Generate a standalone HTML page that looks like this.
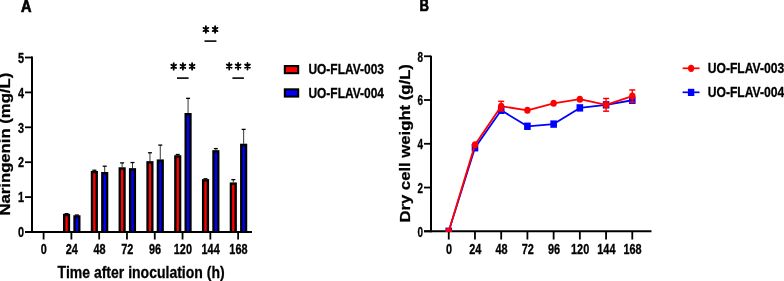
<!DOCTYPE html>
<html><head><meta charset="utf-8"><style>
html,body{margin:0;padding:0;background:#fff;}
body{width:784px;height:281px;overflow:hidden;}
svg{display:block;will-change:transform;filter:blur(0.3px);}
text{font-family:"Liberation Sans", sans-serif;font-weight:bold;fill:#000;stroke:#000;stroke-width:0.3px;}
</style></head><body>
<svg width="784" height="281" viewBox="0 0 784 281">
<rect width="784" height="281" fill="#fff"/>
<text style="stroke-width:0.7px" transform="translate(21.10,11.50) scale(0.91,1)" font-size="16" text-anchor="start">A</text>
<line x1="32.00" y1="56.60" x2="32.00" y2="232.90" stroke="#000" stroke-width="2.0" stroke-linecap="butt"/>
<line x1="25.00" y1="232.00" x2="32.00" y2="232.00" stroke="#000" stroke-width="1.8" stroke-linecap="butt"/>
<text transform="translate(24.00,237.20) scale(0.79,1)" font-size="13.8" text-anchor="end">0</text>
<line x1="25.00" y1="197.10" x2="32.00" y2="197.10" stroke="#000" stroke-width="1.8" stroke-linecap="butt"/>
<text transform="translate(24.00,202.30) scale(0.79,1)" font-size="13.8" text-anchor="end">1</text>
<line x1="25.00" y1="162.20" x2="32.00" y2="162.20" stroke="#000" stroke-width="1.8" stroke-linecap="butt"/>
<text transform="translate(24.00,167.40) scale(0.79,1)" font-size="13.8" text-anchor="end">2</text>
<line x1="25.00" y1="127.30" x2="32.00" y2="127.30" stroke="#000" stroke-width="1.8" stroke-linecap="butt"/>
<text transform="translate(24.00,132.50) scale(0.79,1)" font-size="13.8" text-anchor="end">3</text>
<line x1="25.00" y1="92.40" x2="32.00" y2="92.40" stroke="#000" stroke-width="1.8" stroke-linecap="butt"/>
<text transform="translate(24.00,97.60) scale(0.79,1)" font-size="13.8" text-anchor="end">4</text>
<line x1="25.00" y1="57.50" x2="32.00" y2="57.50" stroke="#000" stroke-width="1.8" stroke-linecap="butt"/>
<text transform="translate(24.00,62.70) scale(0.79,1)" font-size="13.8" text-anchor="end">5</text>
<line x1="25.00" y1="232.00" x2="252.00" y2="232.00" stroke="#000" stroke-width="2.0" stroke-linecap="butt"/>
<line x1="43.60" y1="232.00" x2="43.60" y2="239.50" stroke="#000" stroke-width="1.8" stroke-linecap="butt"/>
<text transform="translate(43.90,253.90) scale(0.79,1)" font-size="13.8" text-anchor="middle">0</text>
<line x1="71.39" y1="232.00" x2="71.39" y2="239.50" stroke="#000" stroke-width="1.8" stroke-linecap="butt"/>
<text transform="translate(71.69,253.90) scale(0.79,1)" font-size="13.8" text-anchor="middle">24</text>
<line x1="99.18" y1="232.00" x2="99.18" y2="239.50" stroke="#000" stroke-width="1.8" stroke-linecap="butt"/>
<text transform="translate(99.48,253.90) scale(0.79,1)" font-size="13.8" text-anchor="middle">48</text>
<line x1="126.97" y1="232.00" x2="126.97" y2="239.50" stroke="#000" stroke-width="1.8" stroke-linecap="butt"/>
<text transform="translate(127.27,253.90) scale(0.79,1)" font-size="13.8" text-anchor="middle">72</text>
<line x1="154.76" y1="232.00" x2="154.76" y2="239.50" stroke="#000" stroke-width="1.8" stroke-linecap="butt"/>
<text transform="translate(155.06,253.90) scale(0.79,1)" font-size="13.8" text-anchor="middle">96</text>
<line x1="182.55" y1="232.00" x2="182.55" y2="239.50" stroke="#000" stroke-width="1.8" stroke-linecap="butt"/>
<text transform="translate(182.85,253.90) scale(0.79,1)" font-size="13.8" text-anchor="middle">120</text>
<line x1="210.34" y1="232.00" x2="210.34" y2="239.50" stroke="#000" stroke-width="1.8" stroke-linecap="butt"/>
<text transform="translate(210.64,253.90) scale(0.79,1)" font-size="13.8" text-anchor="middle">144</text>
<line x1="238.13" y1="232.00" x2="238.13" y2="239.50" stroke="#000" stroke-width="1.8" stroke-linecap="butt"/>
<text transform="translate(238.43,253.90) scale(0.79,1)" font-size="13.8" text-anchor="middle">168</text>
<text transform="translate(57.60,277.70) scale(0.815,1)" font-size="17.2" text-anchor="start">Time after inoculation (h)</text>
<text transform="translate(10.20,215.50) scale(0.85,1) rotate(-90)" font-size="16.7" text-anchor="start">Naringenin (mg/L)</text>
<line x1="66.56" y1="213.68" x2="66.56" y2="213.85" stroke="#222" stroke-width="0.9" stroke-linecap="butt"/>
<line x1="64.56" y1="213.68" x2="68.56" y2="213.68" stroke="#000" stroke-width="1.3" stroke-linecap="butt"/>
<rect x="62.99" y="213.85" width="7.15" height="18.15" fill="#000"/>
<rect x="65.39" y="216.25" width="2.35" height="15.75" fill="#ff0000"/>
<line x1="76.91" y1="215.00" x2="76.91" y2="215.25" stroke="#222" stroke-width="0.9" stroke-linecap="butt"/>
<line x1="74.91" y1="215.00" x2="78.91" y2="215.00" stroke="#000" stroke-width="1.3" stroke-linecap="butt"/>
<rect x="73.34" y="215.25" width="7.15" height="16.75" fill="#000"/>
<rect x="75.74" y="217.65" width="2.35" height="14.35" fill="#0000ff"/>
<line x1="94.36" y1="170.23" x2="94.36" y2="170.93" stroke="#222" stroke-width="0.9" stroke-linecap="butt"/>
<line x1="92.36" y1="170.23" x2="96.36" y2="170.23" stroke="#000" stroke-width="1.3" stroke-linecap="butt"/>
<rect x="90.78" y="170.93" width="7.15" height="61.07" fill="#000"/>
<rect x="93.18" y="173.33" width="2.35" height="58.67" fill="#ff0000"/>
<line x1="104.71" y1="166.21" x2="104.71" y2="171.97" stroke="#222" stroke-width="0.9" stroke-linecap="butt"/>
<line x1="102.71" y1="166.21" x2="106.71" y2="166.21" stroke="#000" stroke-width="1.3" stroke-linecap="butt"/>
<rect x="101.13" y="171.97" width="7.15" height="60.03" fill="#000"/>
<rect x="103.53" y="174.37" width="2.35" height="57.63" fill="#0000ff"/>
<line x1="122.14" y1="162.90" x2="122.14" y2="167.26" stroke="#222" stroke-width="0.9" stroke-linecap="butt"/>
<line x1="120.14" y1="162.90" x2="124.14" y2="162.90" stroke="#000" stroke-width="1.3" stroke-linecap="butt"/>
<rect x="118.57" y="167.26" width="7.15" height="64.74" fill="#000"/>
<rect x="120.97" y="169.66" width="2.35" height="62.34" fill="#ff0000"/>
<line x1="132.50" y1="162.55" x2="132.50" y2="168.13" stroke="#222" stroke-width="0.9" stroke-linecap="butt"/>
<line x1="130.50" y1="162.55" x2="134.50" y2="162.55" stroke="#000" stroke-width="1.3" stroke-linecap="butt"/>
<rect x="128.92" y="168.13" width="7.15" height="63.87" fill="#000"/>
<rect x="131.32" y="170.53" width="2.35" height="61.47" fill="#0000ff"/>
<line x1="149.94" y1="152.78" x2="149.94" y2="161.15" stroke="#222" stroke-width="0.9" stroke-linecap="butt"/>
<line x1="147.94" y1="152.78" x2="151.94" y2="152.78" stroke="#000" stroke-width="1.3" stroke-linecap="butt"/>
<rect x="146.36" y="161.15" width="7.15" height="70.85" fill="#000"/>
<rect x="148.76" y="163.55" width="2.35" height="68.45" fill="#ff0000"/>
<line x1="160.28" y1="145.10" x2="160.28" y2="159.41" stroke="#222" stroke-width="0.9" stroke-linecap="butt"/>
<line x1="158.28" y1="145.10" x2="162.28" y2="145.10" stroke="#000" stroke-width="1.3" stroke-linecap="butt"/>
<rect x="156.71" y="159.41" width="7.15" height="72.59" fill="#000"/>
<rect x="159.11" y="161.81" width="2.35" height="70.19" fill="#0000ff"/>
<line x1="177.72" y1="154.52" x2="177.72" y2="155.22" stroke="#222" stroke-width="0.9" stroke-linecap="butt"/>
<line x1="175.72" y1="154.52" x2="179.72" y2="154.52" stroke="#000" stroke-width="1.3" stroke-linecap="butt"/>
<rect x="174.15" y="155.22" width="7.15" height="76.78" fill="#000"/>
<rect x="176.55" y="157.62" width="2.35" height="74.38" fill="#ff0000"/>
<line x1="188.07" y1="98.33" x2="188.07" y2="112.99" stroke="#222" stroke-width="0.9" stroke-linecap="butt"/>
<line x1="186.07" y1="98.33" x2="190.07" y2="98.33" stroke="#000" stroke-width="1.3" stroke-linecap="butt"/>
<rect x="184.50" y="112.99" width="7.15" height="119.01" fill="#000"/>
<rect x="186.90" y="115.39" width="2.35" height="116.61" fill="#0000ff"/>
<line x1="205.51" y1="178.78" x2="205.51" y2="179.13" stroke="#222" stroke-width="0.9" stroke-linecap="butt"/>
<line x1="203.51" y1="178.78" x2="207.51" y2="178.78" stroke="#000" stroke-width="1.3" stroke-linecap="butt"/>
<rect x="201.94" y="179.13" width="7.15" height="52.87" fill="#000"/>
<rect x="204.34" y="181.53" width="2.35" height="50.47" fill="#ff0000"/>
<line x1="215.87" y1="148.59" x2="215.87" y2="150.16" stroke="#222" stroke-width="0.9" stroke-linecap="butt"/>
<line x1="213.87" y1="148.59" x2="217.87" y2="148.59" stroke="#000" stroke-width="1.3" stroke-linecap="butt"/>
<rect x="212.29" y="150.16" width="7.15" height="81.84" fill="#000"/>
<rect x="214.69" y="152.56" width="2.35" height="79.44" fill="#0000ff"/>
<line x1="233.31" y1="179.65" x2="233.31" y2="182.44" stroke="#222" stroke-width="0.9" stroke-linecap="butt"/>
<line x1="231.31" y1="179.65" x2="235.31" y2="179.65" stroke="#000" stroke-width="1.3" stroke-linecap="butt"/>
<rect x="229.73" y="182.44" width="7.15" height="49.56" fill="#000"/>
<rect x="232.13" y="184.84" width="2.35" height="47.16" fill="#ff0000"/>
<line x1="243.65" y1="129.39" x2="243.65" y2="143.70" stroke="#222" stroke-width="0.9" stroke-linecap="butt"/>
<line x1="241.65" y1="129.39" x2="245.65" y2="129.39" stroke="#000" stroke-width="1.3" stroke-linecap="butt"/>
<rect x="240.08" y="143.70" width="7.15" height="88.30" fill="#000"/>
<rect x="242.48" y="146.10" width="2.35" height="85.90" fill="#0000ff"/>
<line x1="25.00" y1="232.00" x2="252.00" y2="232.00" stroke="#000" stroke-width="2.0" stroke-linecap="butt"/>
<path d="M205.90,26.20V32.80M203.50,27.85L208.30,31.15M203.50,31.15L208.30,27.85" stroke="#000" stroke-width="1.8" stroke-linecap="round" fill="none"/>
<path d="M215.10,26.20V32.80M212.70,27.85L217.50,31.15M212.70,31.15L217.50,27.85" stroke="#000" stroke-width="1.8" stroke-linecap="round" fill="none"/>
<line x1="204.50" y1="41.10" x2="216.40" y2="41.10" stroke="#000" stroke-width="1.6" stroke-linecap="butt"/>
<path d="M173.70,63.10V69.70M171.30,64.75L176.10,68.05M171.30,68.05L176.10,64.75" stroke="#000" stroke-width="1.8" stroke-linecap="round" fill="none"/>
<path d="M182.90,63.10V69.70M180.50,64.75L185.30,68.05M180.50,68.05L185.30,64.75" stroke="#000" stroke-width="1.8" stroke-linecap="round" fill="none"/>
<path d="M192.10,63.10V69.70M189.70,64.75L194.50,68.05M189.70,68.05L194.50,64.75" stroke="#000" stroke-width="1.8" stroke-linecap="round" fill="none"/>
<line x1="177.00" y1="78.10" x2="188.60" y2="78.10" stroke="#000" stroke-width="1.6" stroke-linecap="butt"/>
<path d="M229.20,62.90V69.50M226.80,64.55L231.60,67.85M226.80,67.85L231.60,64.55" stroke="#000" stroke-width="1.8" stroke-linecap="round" fill="none"/>
<path d="M238.10,62.90V69.50M235.70,64.55L240.50,67.85M235.70,67.85L240.50,64.55" stroke="#000" stroke-width="1.8" stroke-linecap="round" fill="none"/>
<path d="M247.50,62.90V69.50M245.10,64.55L249.90,67.85M245.10,67.85L249.90,64.55" stroke="#000" stroke-width="1.8" stroke-linecap="round" fill="none"/>
<line x1="232.40" y1="78.10" x2="243.90" y2="78.10" stroke="#000" stroke-width="1.6" stroke-linecap="butt"/>
<rect x="283.80" y="65.00" width="15.40" height="9.20" fill="#000"/>
<rect x="285.90" y="67.10" width="11.20" height="5.00" fill="#ff0000"/>
<rect x="283.80" y="88.30" width="15.40" height="9.30" fill="#000"/>
<rect x="285.90" y="90.40" width="11.20" height="5.10" fill="#0000ff"/>
<text transform="translate(308.40,74.30) scale(0.82,1)" font-size="14.6" text-anchor="start">UO-FLAV-003</text>
<text transform="translate(308.40,97.70) scale(0.82,1)" font-size="14.6" text-anchor="start">UO-FLAV-004</text>
<text style="stroke-width:0.7px" transform="translate(419.60,11.30) scale(0.82,1)" font-size="16" text-anchor="start">B</text>
<line x1="431.00" y1="55.70" x2="431.00" y2="232.20" stroke="#000" stroke-width="2.0" stroke-linecap="butt"/>
<line x1="424.00" y1="231.30" x2="431.00" y2="231.30" stroke="#000" stroke-width="1.8" stroke-linecap="butt"/>
<text transform="translate(423.10,236.70) scale(0.72,1)" font-size="13.8" text-anchor="end">0</text>
<line x1="424.00" y1="187.54" x2="431.00" y2="187.54" stroke="#000" stroke-width="1.8" stroke-linecap="butt"/>
<text transform="translate(423.10,192.94) scale(0.72,1)" font-size="13.8" text-anchor="end">2</text>
<line x1="424.00" y1="143.78" x2="431.00" y2="143.78" stroke="#000" stroke-width="1.8" stroke-linecap="butt"/>
<text transform="translate(423.10,149.18) scale(0.72,1)" font-size="13.8" text-anchor="end">4</text>
<line x1="424.00" y1="100.02" x2="431.00" y2="100.02" stroke="#000" stroke-width="1.8" stroke-linecap="butt"/>
<text transform="translate(423.10,105.42) scale(0.72,1)" font-size="13.8" text-anchor="end">6</text>
<line x1="424.00" y1="56.26" x2="431.00" y2="56.26" stroke="#000" stroke-width="1.8" stroke-linecap="butt"/>
<text transform="translate(423.10,61.66) scale(0.72,1)" font-size="13.8" text-anchor="end">8</text>
<line x1="424.00" y1="231.30" x2="651.50" y2="231.30" stroke="#000" stroke-width="2.0" stroke-linecap="butt"/>
<line x1="448.75" y1="231.30" x2="448.75" y2="239.50" stroke="#000" stroke-width="1.8" stroke-linecap="butt"/>
<text transform="translate(449.05,253.90) scale(0.79,1)" font-size="13.8" text-anchor="middle">0</text>
<line x1="474.97" y1="231.30" x2="474.97" y2="239.50" stroke="#000" stroke-width="1.8" stroke-linecap="butt"/>
<text transform="translate(475.27,253.90) scale(0.79,1)" font-size="13.8" text-anchor="middle">24</text>
<line x1="501.19" y1="231.30" x2="501.19" y2="239.50" stroke="#000" stroke-width="1.8" stroke-linecap="butt"/>
<text transform="translate(501.49,253.90) scale(0.79,1)" font-size="13.8" text-anchor="middle">48</text>
<line x1="527.41" y1="231.30" x2="527.41" y2="239.50" stroke="#000" stroke-width="1.8" stroke-linecap="butt"/>
<text transform="translate(527.71,253.90) scale(0.79,1)" font-size="13.8" text-anchor="middle">72</text>
<line x1="553.63" y1="231.30" x2="553.63" y2="239.50" stroke="#000" stroke-width="1.8" stroke-linecap="butt"/>
<text transform="translate(553.93,253.90) scale(0.79,1)" font-size="13.8" text-anchor="middle">96</text>
<line x1="579.85" y1="231.30" x2="579.85" y2="239.50" stroke="#000" stroke-width="1.8" stroke-linecap="butt"/>
<text transform="translate(580.15,253.90) scale(0.79,1)" font-size="13.8" text-anchor="middle">120</text>
<line x1="606.07" y1="231.30" x2="606.07" y2="239.50" stroke="#000" stroke-width="1.8" stroke-linecap="butt"/>
<text transform="translate(606.37,253.90) scale(0.79,1)" font-size="13.8" text-anchor="middle">144</text>
<line x1="632.29" y1="231.30" x2="632.29" y2="239.50" stroke="#000" stroke-width="1.8" stroke-linecap="butt"/>
<text transform="translate(632.59,253.90) scale(0.79,1)" font-size="13.8" text-anchor="middle">168</text>
<text transform="translate(410.00,222.60) scale(0.85,1) rotate(-90)" font-size="16.7" text-anchor="start">Dry cell weight (g/L)</text>
<defs><clipPath id="pc"><rect x="432" y="0" width="400" height="232.1"/></clipPath></defs>
<g clip-path="url(#pc)">
<polyline points="448.75,231.30 474.97,147.72 501.19,110.30 527.41,126.28 553.63,124.09 579.85,107.90 606.07,104.83 632.29,100.24" fill="none" stroke="#0000ff" stroke-width="1.8" stroke-linejoin="round"/>
<rect x="445.45" y="227.60" width="6.60" height="7.40" fill="#0000ff"/>
<rect x="471.67" y="144.02" width="6.60" height="7.40" fill="#0000ff"/>
<rect x="497.89" y="106.60" width="6.60" height="7.40" fill="#0000ff"/>
<rect x="524.11" y="122.58" width="6.60" height="7.40" fill="#0000ff"/>
<rect x="550.33" y="120.39" width="6.60" height="7.40" fill="#0000ff"/>
<rect x="576.55" y="104.20" width="6.60" height="7.40" fill="#0000ff"/>
<rect x="602.77" y="101.13" width="6.60" height="7.40" fill="#0000ff"/>
<rect x="628.99" y="96.54" width="6.60" height="7.40" fill="#0000ff"/>
<polyline points="448.75,231.30 474.97,144.87 501.19,106.15 527.41,110.30 553.63,103.30 579.85,99.14 606.07,104.83 632.29,96.08" fill="none" stroke="#ff0000" stroke-width="1.8" stroke-linejoin="round"/>
<ellipse cx="448.75" cy="231.30" rx="3.2" ry="3.5" fill="#ff0000"/>
<ellipse cx="474.97" cy="144.87" rx="3.2" ry="3.5" fill="#ff0000"/>
<line x1="501.19" y1="101.33" x2="501.19" y2="110.96" stroke="#ff0000" stroke-width="1.4" stroke-linecap="butt"/>
<line x1="498.19" y1="101.33" x2="504.19" y2="101.33" stroke="#ff0000" stroke-width="1.5" stroke-linecap="butt"/>
<line x1="498.19" y1="110.96" x2="504.19" y2="110.96" stroke="#ff0000" stroke-width="1.5" stroke-linecap="butt"/>
<ellipse cx="501.19" cy="106.15" rx="3.2" ry="3.5" fill="#ff0000"/>
<ellipse cx="527.41" cy="110.30" rx="3.2" ry="3.5" fill="#ff0000"/>
<ellipse cx="553.63" cy="103.30" rx="3.2" ry="3.5" fill="#ff0000"/>
<ellipse cx="579.85" cy="99.14" rx="3.2" ry="3.5" fill="#ff0000"/>
<line x1="606.07" y1="98.49" x2="606.07" y2="111.18" stroke="#ff0000" stroke-width="1.4" stroke-linecap="butt"/>
<line x1="603.07" y1="98.49" x2="609.07" y2="98.49" stroke="#ff0000" stroke-width="1.5" stroke-linecap="butt"/>
<line x1="603.07" y1="111.18" x2="609.07" y2="111.18" stroke="#ff0000" stroke-width="1.5" stroke-linecap="butt"/>
<ellipse cx="606.07" cy="104.83" rx="3.2" ry="3.5" fill="#ff0000"/>
<line x1="632.29" y1="89.96" x2="632.29" y2="102.21" stroke="#ff0000" stroke-width="1.4" stroke-linecap="butt"/>
<line x1="629.29" y1="89.96" x2="635.29" y2="89.96" stroke="#ff0000" stroke-width="1.5" stroke-linecap="butt"/>
<line x1="629.29" y1="102.21" x2="635.29" y2="102.21" stroke="#ff0000" stroke-width="1.5" stroke-linecap="butt"/>
<ellipse cx="632.29" cy="96.08" rx="3.2" ry="3.5" fill="#ff0000"/>
</g>
<line x1="682.60" y1="68.30" x2="699.50" y2="68.30" stroke="#ff0000" stroke-width="1.7" stroke-linecap="butt"/>
<ellipse cx="691.1" cy="68.3" rx="3.1" ry="3.6" fill="#ff0000"/>
<line x1="682.60" y1="92.30" x2="699.50" y2="92.30" stroke="#0000ff" stroke-width="1.7" stroke-linecap="butt"/>
<rect x="687.90" y="88.80" width="6.40" height="7.20" fill="#0000ff"/>
<text transform="translate(707.70,73.10) scale(0.832,1)" font-size="14.6" text-anchor="start">UO-FLAV-003</text>
<text transform="translate(707.70,96.80) scale(0.832,1)" font-size="14.6" text-anchor="start">UO-FLAV-004</text>
</svg>
</body></html>
